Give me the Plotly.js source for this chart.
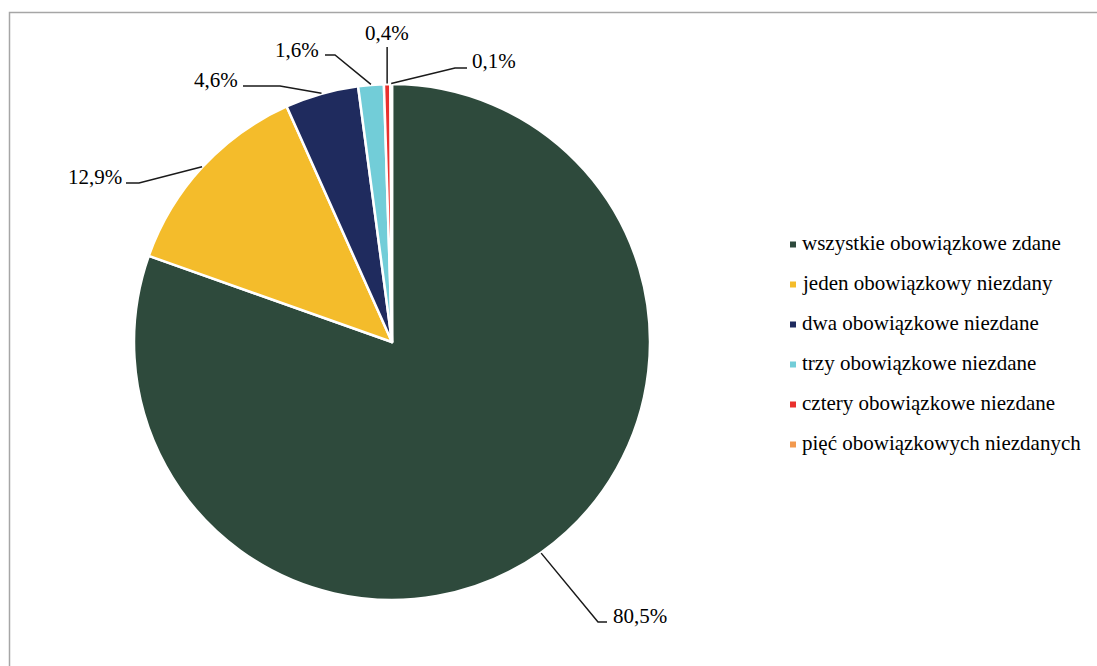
<!DOCTYPE html>
<html><head><meta charset="utf-8">
<script src="https://cdn.plot.ly/plotly-3.0.1.min.js"></script>
<style>html,body{margin:0;padding:0;background:#fff}#chart{width:1097px;height:666px}</style>
</head><body><div id="chart"></div>
<script>
// ---- data ----
const categories = [
  'wszystkie obowiązkowe zdane',
  'jeden obowiązkowy niezdany',
  'dwa obowiązkowe niezdane',
  'trzy obowiązkowe niezdane',
  'cztery obowiązkowe niezdane',
  'pięć obowiązkowych niezdanych'
];
const values = [80.5, 12.9, 4.6, 1.6, 0.4, 0.1];
const colors = ['#2E4A3C', '#F4BC2B', '#1F2B5E', '#72CDD8', '#E9302D', '#F2994E'];

// ---- layout (pixels) ----
const W = 1097, H = 666;
const CX = 392, CY = 342, R = 258;
const FONT = '"Liberation Serif", "Times New Roman", serif';
const FS = 21;
// leader-line elbows / ends and label positions for each slice
const labelLayout = [
  {elbow: [598, 622], end: [607, 622], pos: [611, 616], anchor: 'left'},
  {elbow: [139, 183], end: [126, 183], pos: [124, 177], anchor: 'right'},
  {elbow: [280, 86],  end: [243, 86],  pos: [240, 80],  anchor: 'right'},
  {elbow: [335, 55],  end: [325, 55],  pos: [321, 50],  anchor: 'right'},
  {elbow: null,       end: [null, 47], pos: [null, 33], anchor: 'center'},
  {elbow: [455, 68],  end: [467, 68],  pos: [470, 61],  anchor: 'left'}
];
const legendX = 790, legendTextX = 800, legendY0 = 244.5, legendStep = 40, sq = 6;

const px = x => x / W;
const py = y => 1 - y / H;

const total = values.reduce((a, b) => a + b, 0);
const shapes = [];
const annotations = [];

// border
shapes.push({type: 'path', xref: 'paper', yref: 'paper',
  path: `M ${px(9.5)},${py(H + 5)} L ${px(9.5)},${py(12.5)} L ${px(W + 5)},${py(12.5)}`,
  line: {color: '#A6A6A6', width: 1.5}});

let cum = 0;
values.forEach((v, i) => {
  const a = (cum + v / 2) / total * 2 * Math.PI;
  cum += v;
  const ax = CX + (R + 0.5) * Math.sin(a);
  const ay = CY - (R + 0.5) * Math.cos(a);
  const L = labelLayout[i];
  const end = [L.end[0] === null ? ax : L.end[0], L.end[1]];
  const pts = [[ax, ay]];
  if (L.elbow) pts.push(L.elbow);
  pts.push(end);
  const path = pts.map((p, k) => (k ? 'L ' : 'M ') + px(p[0]) + ',' + py(p[1])).join(' ');
  shapes.push({type: 'path', xref: 'paper', yref: 'paper', path: path,
    line: {color: '#1A1A1A', width: 1.5}});
  const lx = L.pos[0] === null ? ax : L.pos[0];
  annotations.push({xref: 'paper', yref: 'paper', x: px(lx), y: py(L.pos[1]),
    xanchor: L.anchor, yanchor: 'middle', showarrow: false,
    text: v.toFixed(1).replace('.', ',') + '%',
    font: {family: FONT, size: FS, color: '#000'}});

  // custom legend
  const ly = legendY0 + i * legendStep;
  shapes.push({type: 'rect', xref: 'paper', yref: 'paper',
    x0: px(legendX), x1: px(legendX + sq), y0: py(ly + sq / 2), y1: py(ly - sq / 2),
    fillcolor: colors[i], line: {width: 0}});
  annotations.push({xref: 'paper', yref: 'paper', x: px(legendTextX), y: py(ly - 1.5),
    xanchor: 'left', yanchor: 'middle', showarrow: false, text: categories[i],
    font: {family: FONT, size: 21, color: '#000'}});
});

const trace = {
  type: 'pie', values: values, labels: categories,
  marker: {colors: colors, line: {color: '#FFFFFF', width: 2.5}},
  sort: false, direction: 'clockwise', rotation: 0,
  textinfo: 'none', hoverinfo: 'skip', showlegend: false,
  domain: {x: [px(CX - R), px(CX + R)], y: [py(CY + R), py(CY - R)]}
};

Plotly.newPlot('chart', [trace], {
  width: W, height: H, margin: {l: 0, r: 0, t: 0, b: 0},
  paper_bgcolor: '#fff', showlegend: false,
  shapes: shapes, annotations: annotations
}, {staticPlot: true});
</script>
</body></html>
